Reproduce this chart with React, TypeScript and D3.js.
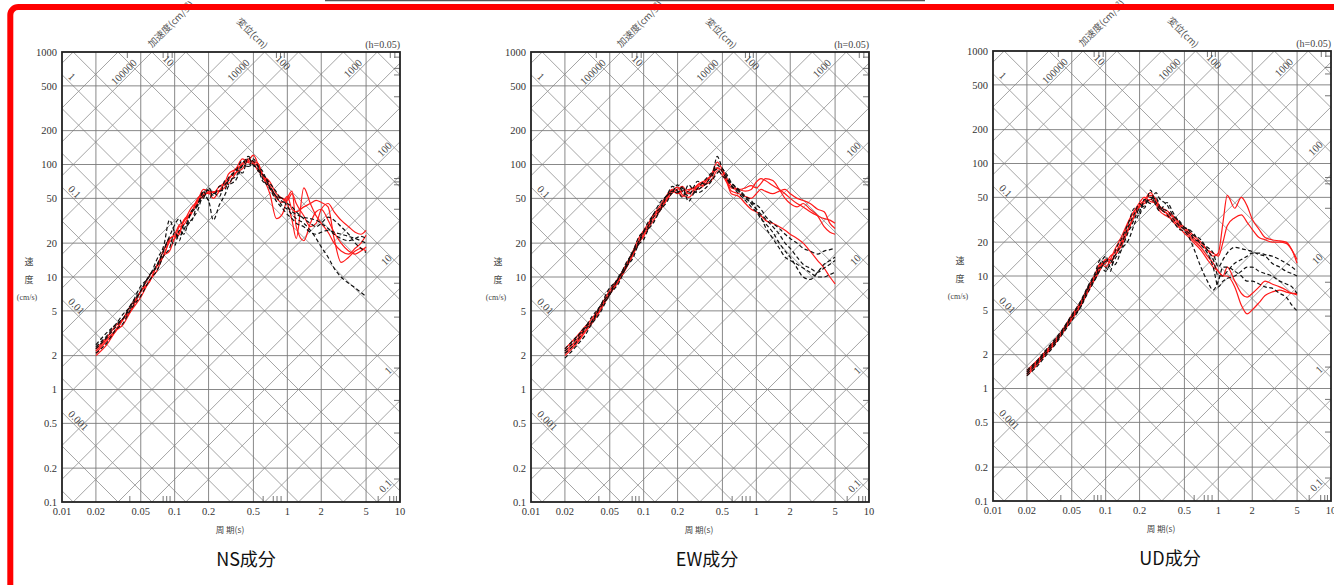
import React from 'react'
import * as d3 from 'd3'

// periods (s) shared by every spectrum
const PERIODS = [
  0.02, 0.025, 0.03, 0.035, 0.04, 0.05, 0.06, 0.07, 0.08, 0.09,
  0.1, 0.11, 0.12, 0.14, 0.16, 0.18, 0.2, 0.22, 0.25, 0.28,
  0.3, 0.35, 0.4, 0.45, 0.5, 0.55, 0.6, 0.7, 0.8, 0.9,
  1.0, 1.1, 1.2, 1.4, 1.6, 1.8, 2.0, 2.3, 2.6, 3.0,
  3.5, 4.0, 4.5, 5.0,
]

// pseudo velocity response (cm/s), black dashed curves
const NS_BLACK = [
  [2.3, 2.9, 3.6, 4.3, 5.2, 7.5, 10.5, 12.5, 17, 22, 19, 26, 24, 38, 44, 58, 48, 56, 52, 72, 66, 90, 84, 115, 98, 92, 72, 64, 52, 50, 42, 38, 36, 34, 33, 32, 30, 27, 24, 22, 21, 22, 23, 22],
  [2.1, 2.6, 3.4, 3.9, 5.0, 6.8, 9.4, 11.5, 15.5, 18, 25, 21, 29, 31, 45, 50, 62, 55, 58, 60, 72, 78, 98, 96, 112, 96, 88, 62, 52, 43, 40, 36, 33, 30, 26, 22, 18.5, 15, 12, 10, 8.8, 8, 7.3, 6.7],
  [2.5, 3.2, 3.8, 4.7, 5.4, 8.3, 10.2, 14.5, 19, 32, 25, 23, 26, 37, 43, 57, 59, 53, 64, 66, 76, 88, 108, 96, 100, 88, 82, 68, 57, 47, 45, 42, 38, 33, 30, 28, 30, 34, 32, 28, 24, 20, 18, 16.5],
  [2.4, 3.0, 3.8, 4.3, 5.5, 7.6, 10.4, 13, 17.5, 23, 29, 33, 27, 32, 39, 53, 48, 32, 44, 54, 64, 73, 98, 118, 106, 97, 76, 61, 47, 41, 36, 33, 30, 28, 25, 24, 25, 26, 25, 24, 23, 22, 21, 20],
]
const NS_RED = [
  [2.0, 2.5, 3.3, 3.8, 4.8, 6.6, 9.3, 11.5, 15.5, 17, 22, 24, 31, 36, 50, 54, 56, 50, 58, 63, 75, 85, 103, 108, 121, 100, 80, 55, 33, 36, 50, 58, 28, 21, 30, 38, 40, 32, 25, 20, 17, 16, 17, 18.5],
  [2.2, 2.8, 3.4, 4.3, 4.9, 7.4, 9.2, 12.8, 15.5, 21.5, 24, 29, 31, 41, 48, 60, 58, 57, 59, 68, 68, 84, 92, 107, 106, 102, 83, 70, 55, 50, 45, 32, 22, 62, 45, 35, 30, 25, 20, 17, 16, 18, 20, 23.5],
  [2.3, 2.9, 3.7, 4.3, 5.4, 7.4, 10.3, 12.6, 17.5, 22, 23, 25, 32, 37, 47, 52, 57, 56, 64, 70, 82, 92, 112, 104, 101, 88, 80, 62, 50, 46, 52, 40, 38, 42, 45, 48, 46, 42, 22, 13.5, 15, 17, 18, 17],
  [2.1, 2.7, 3.3, 4.2, 4.9, 7.5, 9.1, 12.9, 15.6, 20.5, 22, 28, 29, 38, 45, 56, 55, 57, 58, 70, 73, 92, 99, 112, 103, 96, 82, 65, 52, 50, 48, 55, 45, 35, 28, 30, 40, 45, 38, 32, 28, 25, 24, 26],
]

const EW_BLACK = [
  [2.1, 2.6, 3.4, 4.0, 5.1, 7.0, 9.8, 12.2, 16.5, 19.5, 25, 27, 33, 39, 52, 58, 56, 61, 57, 56, 59, 66, 74, 118, 92, 81, 69, 60, 52, 45, 40, 36, 33, 28, 24, 20, 18, 15, 13, 12, 11, 12, 13, 14],
  [2.3, 2.9, 3.5, 4.5, 5.3, 8.0, 9.7, 13.4, 16.6, 22.5, 25.5, 31, 35, 46, 53, 64, 58, 51, 66, 58, 56, 61, 71, 84, 91, 77, 66, 55, 48, 42, 38, 33, 30, 25, 20, 17, 15, 12, 10, 9.5, 11, 13, 14, 15],
  [2.2, 2.8, 3.6, 4.1, 5.3, 7.3, 10.1, 12.7, 17, 20.5, 25.5, 28.5, 35, 41, 53, 57, 66, 58, 53, 64, 71, 67, 81, 99, 86, 74, 69, 58, 50, 46, 44, 40, 35, 30, 27, 24, 22, 20, 18, 17, 16, 17, 17.5, 18],
  [1.9, 2.4, 3.0, 3.9, 4.6, 7.0, 8.8, 12.3, 14.6, 19.4, 21.5, 26.5, 29.5, 39, 46, 56, 57, 63, 47, 56, 61, 73, 84, 91, 79, 73, 64, 58, 52, 48, 40, 34, 28, 22, 18, 15, 14, 13, 12, 11, 10, 10, 10.5, 11],
]
const EW_RED = [
  [2.0, 2.5, 3.2, 3.9, 4.8, 7.0, 9.2, 12, 15.5, 20, 24, 28, 33, 40, 50, 58, 55, 58, 60, 62, 65, 70, 82, 105, 90, 75, 65, 60, 58, 60, 70, 75, 72, 65, 60, 55, 50, 45, 42, 38, 35, 33, 32, 30],
  [2.2, 2.7, 3.5, 4.1, 5.2, 7.2, 9.8, 12.5, 16.4, 20.6, 25.5, 28.4, 34.5, 41, 53, 59, 63, 54, 51, 57, 63, 67, 79, 94, 86, 71, 62, 60, 62, 65, 62, 68, 75, 72, 60, 50, 45, 42, 45, 40, 35, 28, 25, 24],
  [2.1, 2.6, 3.3, 4.0, 4.9, 7.1, 9.3, 12.2, 15.8, 20, 23, 27, 31, 39, 48, 56, 60, 64, 55, 60, 66, 72, 80, 92, 88, 70, 58, 55, 52, 50, 55, 60, 58, 55, 58, 60, 55, 50, 48, 45, 40, 38, 30, 27],
  [2.3, 2.9, 3.6, 4.3, 5.2, 7.6, 9.9, 13, 16.8, 22, 26, 30, 35, 43, 53, 60, 58, 52, 58, 62, 60, 66, 72, 88, 80, 68, 55, 52, 45, 40, 38, 35, 32, 30, 28, 26, 24, 22, 20, 17, 14, 12, 10, 8.7],
]

const UD_BLACK = [
  [1.35, 1.7, 2.1, 2.5, 3.0, 4.3, 5.3, 7.8, 9.2, 11.5, 13.5, 13.8, 12.6, 17.5, 21, 29, 37, 46, 47, 55, 49, 43, 34, 31, 27, 25.5, 21.5, 20, 18, 16, 12, 14, 16, 18, 17.5, 17, 16.5, 15.5, 15, 13, 12, 11, 10.5, 10],
  [1.4, 1.75, 2.2, 2.6, 3.1, 4.4, 5.8, 8, 10, 13, 15, 12, 14, 18, 25, 32, 40, 42, 50, 45, 40, 38, 32, 28, 26, 24, 23, 21, 17, 14, 10, 10, 11, 13, 14, 15, 16, 16, 15.5, 15, 14, 13, 12, 11],
  [1.3, 1.6, 2.0, 2.4, 2.9, 4.0, 5.3, 7.2, 9.2, 12, 11, 13, 15, 20, 28, 36, 44, 40, 58, 42, 38, 45, 36, 30, 27, 26, 24, 19, 16, 12, 8, 9, 9.5, 10, 11, 12, 12, 11, 10.5, 10, 9, 8.5, 8, 7],
  [1.45, 1.8, 2.25, 2.7, 3.2, 4.5, 6, 8.2, 10.5, 14, 12, 11, 16, 22, 30, 40, 35, 48, 44, 50, 42, 35, 30, 26, 25, 22, 18, 12, 9, 7.5, 9, 12, 12, 11, 10, 9, 9, 8.5, 8, 7.8, 7, 6.5, 5.5, 4.9],
]
const UD_RED = [
  [1.3, 1.65, 2.05, 2.45, 2.95, 4.1, 5.4, 7.3, 9.3, 11.5, 14, 13, 15, 19, 26, 34, 42, 46, 52, 48, 42, 38, 34, 30, 27, 25, 23, 20, 17, 15, 16, 30, 52, 40, 50, 42, 32, 26, 22, 21, 20.5, 20, 17, 13],
  [1.4, 1.75, 2.15, 2.55, 3.05, 4.3, 5.7, 7.8, 9.8, 12.5, 13, 15, 16, 21, 30, 38, 45, 50, 46, 44, 40, 36, 33, 29, 26, 24, 22, 19, 17, 16, 15, 20, 28, 33, 35, 30, 26, 22, 21, 20, 20, 19.5, 17, 14],
  [1.35, 1.7, 2.1, 2.5, 3.0, 4.2, 5.5, 7.6, 9.6, 12, 14, 14, 15, 20, 27, 35, 43, 47, 55, 46, 40, 36, 30, 27, 24, 22, 20, 17, 14, 12, 11, 10, 10, 8, 5.5, 4.6, 5, 5.8, 6.7, 7.2, 7.5, 7.2, 7, 6.8],
  [1.45, 1.8, 2.2, 2.65, 3.15, 4.5, 5.9, 8, 10.2, 13, 12, 14, 17, 23, 31, 38, 41, 44, 48, 43, 38, 34, 31, 28, 26, 23, 21, 18, 15, 13, 11, 10, 12, 9, 7, 6.5, 7, 8, 9, 8.5, 8, 7.5, 7, 7],
]

// axis ticks
const T_TICKS = [0.01, 0.02, 0.05, 0.1, 0.2, 0.5, 1, 2, 5, 10]
const T_LABELS = ['0.01', '0.02', '0.05', '0.1', '0.2', '0.5', '1', '2', '5', '10']
const V_TICKS = [0.1, 0.2, 0.5, 1, 2, 5, 10, 20, 50, 100, 200, 500, 1000]
const V_LABELS = ['0.1', '0.2', '0.5', '1', '2', '5', '10', '20', '50', '100', '200', '500', '1000']
const BOTTOM_MINOR = [0.04, 0.079, 0.085, 0.091, 0.61, 0.75, 0.81, 0.88, 6.4, 8.1, 8.8, 9.3]
const TOP_MINOR = [0.038, 0.079, 0.087, 0.095, 0.8, 0.87, 0.94, 8.2, 9.0]
const RIGHT_MINOR = [900, 715, 625, 400, 75, 70, 66, 40, 8.8, 4.4, 1.55, 0.8, 0.41, 0.16]

// tripartite diagonal labels
const DISP_LABELS = [
  { v: 1, side: 'left', text: '1' },
  { v: 0.1, side: 'left', text: '0.1' },
  { v: 0.01, side: 'left', text: '0.01' },
  { v: 0.001, side: 'left', text: '0.001' },
  { v: 10, side: 'top', text: '10' },
  { v: 100, side: 'top', text: '100' },
]
const ACC_LABELS = [
  { v: 100000, side: 'top', text: '100000' },
  { v: 10000, side: 'top', text: '10000' },
  { v: 1000, side: 'top', text: '1000' },
  { v: 100, side: 'right', text: '100' },
  { v: 10, side: 'right', text: '10' },
  { v: 1, side: 'right', text: '1' },
  { v: 0.1, side: 'right', text: '0.1' },
]

const PANELS = [
  { id: 'ns', left: 62, top: 52, title: 'NS成分', titleX: 246, black: NS_BLACK, red: NS_RED },
  { id: 'ew', left: 531, top: 52, title: 'EW成分', titleX: 707, black: EW_BLACK, red: EW_RED },
  { id: 'ud', left: 993, top: 51, title: 'UD成分', titleX: 1170, black: UD_BLACK, red: UD_RED },
]

const W = 338
const H = 450
const TWO_PI = 2 * Math.PI
const SERIF = '"Liberation Serif", "DejaVu Serif", serif'
const CJK = '"Noto Sans CJK JP", "Noto Sans", sans-serif'

const diagValues: number[] = []
for (let n = -5; n <= 6; n++) [1, 2, 5].forEach((m) => diagValues.push(m * Math.pow(10, n)))

function Panel({ p }: { p: typeof PANELS[number] }) {
  const { left, top } = p
  const right = left + W
  const bottom = top + H
  const x = d3.scaleLog().domain([0.01, 10]).range([left, right])
  const y = d3.scaleLog().domain([0.1, 1000]).range([bottom, top])

  const line = d3
    .line<number>()
    .x((_, i) => x(PERIODS[i]))
    .y((d) => y(d))
    .curve(d3.curveMonotoneX)

  const dispLine = (D: number) =>
    `M${x(0.001)},${y((TWO_PI * D) / 0.001)}L${x(100)},${y((TWO_PI * D) / 100)}`
  const accLine = (A: number) =>
    `M${x(0.001)},${y((A * 0.001) / TWO_PI)}L${x(100)},${y((A * 100) / TWO_PI)}`

  const clip = `clip-${p.id}`

  const dispLabel = (l: typeof DISP_LABELS[number]) => {
    let px: number, py: number
    if (l.side === 'left') {
      px = left + 4
      py = y((TWO_PI * l.v) / x.invert(px))
    } else {
      py = top + 9
      px = x((TWO_PI * l.v) / y.invert(py))
    }
    return (
      <text key={'d' + l.text} x={px} y={py} dy={-2} fontSize={10.5} fill="#444" fontFamily={SERIF}
        transform={`rotate(45,${px},${py})`}>{l.text}</text>
    )
  }
  const accLabel = (l: typeof ACC_LABELS[number]) => {
    let px: number, py: number
    if (l.side === 'right') {
      px = right - 6
      py = y((l.v * x.invert(px)) / TWO_PI)
    } else {
      py = top + 13
      px = x((TWO_PI * y.invert(py)) / l.v)
    }
    return (
      <text key={'a' + l.text} x={px} y={py} dy={-2} fontSize={10.5} fill="#444" fontFamily={SERIF}
        textAnchor="end" transform={`rotate(-45,${px},${py})`}>{l.text}</text>
    )
  }

  return (
    <g>
      <defs>
        <clipPath id={clip}>
          <rect x={left} y={top} width={W} height={H} />
        </clipPath>
      </defs>
      <rect x={left} y={top} width={W} height={H} fill="#fff" />
      <g clipPath={`url(#${clip})`}>
        {diagValues.map((v) => (
          <path key={'dl' + v} d={dispLine(v)} stroke="#9a9a9a" strokeWidth={0.9} fill="none" />
        ))}
        {diagValues.map((v) => (
          <path key={'al' + v} d={accLine(v)} stroke="#9a9a9a" strokeWidth={0.9} fill="none" />
        ))}
        {T_TICKS.slice(1, -1).map((t) => (
          <line key={'vx' + t} x1={x(t)} x2={x(t)} y1={top} y2={bottom} stroke="#7a7a7a" strokeWidth={0.9} />
        ))}
        {V_TICKS.slice(1, -1).map((v) => (
          <line key={'hy' + v} x1={left} x2={right} y1={y(v)} y2={y(v)} stroke="#7a7a7a" strokeWidth={0.9} />
        ))}
        {BOTTOM_MINOR.map((t) => (
          <line key={'bm' + t} x1={x(t)} x2={x(t)} y1={bottom} y2={bottom - 6} stroke="#666" strokeWidth={0.9} />
        ))}
        {TOP_MINOR.map((t) => (
          <line key={'tm' + t} x1={x(t)} x2={x(t)} y1={top} y2={top + 6} stroke="#666" strokeWidth={0.9} />
        ))}
        {RIGHT_MINOR.map((v) => (
          <line key={'rm' + v} x1={right} x2={right - 6} y1={y(v)} y2={y(v)} stroke="#666" strokeWidth={0.9} />
        ))}
        {DISP_LABELS.map(dispLabel)}
        {ACC_LABELS.map(accLabel)}
        {p.red.map((s, i) => (
          <path key={'r' + i} d={line(s) || ''} fill="none" stroke="#ff1a1a" strokeWidth={1.2} />
        ))}
        {p.black.map((s, i) => (
          <path key={'k' + i} d={line(s) || ''} fill="none" stroke="#111" strokeWidth={1.2} strokeDasharray="4 2.5" />
        ))}
      </g>
      <rect x={left} y={top} width={W} height={H} fill="none" stroke="#222" strokeWidth={1.8} />

      {V_TICKS.map((v, i) => (
        <text key={'yl' + v} x={left - 5} y={y(v)} dy="0.35em" textAnchor="end" fontSize={10.5} fill="#333" fontFamily={SERIF}>
          {V_LABELS[i]}
        </text>
      ))}
      {T_TICKS.map((t, i) => (
        <text key={'xl' + t} x={x(t)} y={bottom + 13} textAnchor="middle" fontSize={10.5} fill="#333" fontFamily={SERIF}>
          {T_LABELS[i]}
        </text>
      ))}

      <text x={right} y={top - 4} textAnchor="end" fontSize={10} fill="#444" fontFamily={SERIF}>(h=0.05)</text>
      <text x={left + 90} y={top - 4} fontSize={9.5} fill="#555" fontFamily={CJK}
        transform={`rotate(-45,${left + 90},${top - 4})`}>加速度(cm/s²)</text>
      <text x={left + 174} y={top - 30} fontSize={9.5} fill="#555" fontFamily={CJK}
        transform={`rotate(45,${left + 174},${top - 30})`}>変位(cm)</text>

      <text x={left - 33} y={top + 213} textAnchor="middle" fontSize={9} fill="#444" fontFamily={CJK}>速</text>
      <text x={left - 33} y={top + 231} textAnchor="middle" fontSize={9} fill="#444" fontFamily={CJK}>度</text>
      <text x={left - 35} y={top + 248} textAnchor="middle" fontSize={8} fill="#444" fontFamily={SERIF}>(cm/s)</text>

      <text x={left + 168} y={bottom + 31} textAnchor="middle" fontSize={8.5} fill="#444" fontFamily={CJK}>周 期(s)</text>
      <text x={p.titleX} y={bottom + 64} textAnchor="middle" fontSize={18} fill="#111" fontFamily={CJK}>{p.title}</text>
    </g>
  )
}

export default function App() {
  return (
    <svg width={1334} height={585} style={{ position: 'absolute', left: 0, top: 0, background: '#fff' }}>
      <rect x={0} y={0} width={1334} height={585} fill="#fff" />
      {PANELS.map((p) => (
        <Panel key={p.id} p={p} />
      ))}
      <line x1={325} x2={925} y1={0.5} y2={0.5} stroke="#555" strokeWidth={1.5} />
      <rect x={10.3} y={7} width={1400} height={700} rx={8} fill="none" stroke="#ff0000" strokeWidth={6} />
    </svg>
  )
}
